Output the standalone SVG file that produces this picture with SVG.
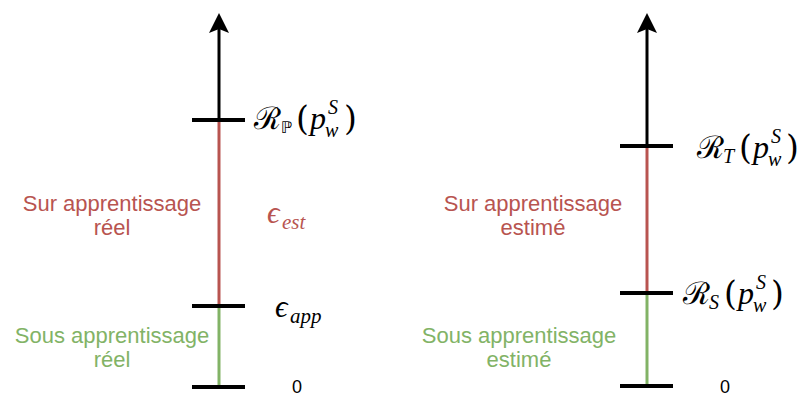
<svg xmlns="http://www.w3.org/2000/svg" width="800" height="397" viewBox="0 0 800 397">
<style>
.ax{stroke:#000;stroke-width:3;fill:none}
.tick{stroke:#000;stroke-width:4;fill:none}
.red{stroke:#b85450;stroke-width:3;fill:none}
.grn{stroke:#82b366;stroke-width:3;fill:none}
.lbl{font-family:"Liberation Sans",Arial,sans-serif;font-size:22px;text-anchor:middle}
.m{font-family:"DejaVu Serif","Liberation Serif",serif;fill:#000}
.mi{font-family:"Liberation Serif","DejaVu Serif",serif;font-style:italic}
.bb{font-family:"DejaVu Sans","Noto Sans",sans-serif;fill:#000}
.rt{fill:#b85450}
.gt{fill:#82b366}
.zero{font-family:"Liberation Sans",Arial,sans-serif;font-size:18px;fill:#000}
</style>
<rect width="800" height="397" fill="#fff"/>
<g id="connectors">
  <line class="ax" x1="219" y1="28" x2="219" y2="120"/>
  <polygon points="219,13 229,33 219,29 209,33" fill="#000"/>
  <line class="red" x1="219" y1="120" x2="219" y2="306"/>
  <line class="grn" x1="219" y1="306" x2="219" y2="387"/>
  <line class="ax" x1="647" y1="28" x2="647" y2="146"/>
  <polygon points="647,13 657,33 647,29 637,33" fill="#000"/>
  <line class="red" x1="647" y1="146" x2="647" y2="293"/>
  <line class="grn" x1="647" y1="293" x2="647" y2="386"/>
</g>
<g id="tick-rp">
  <line class="tick" x1="192" y1="120" x2="245" y2="120"/>
  <text class="m" x="254" y="129" font-size="31">ℛ</text>
  <text class="bb" x="281" y="133" font-size="16">ℙ</text>
  <text class="m" x="296" y="130" font-size="33">(</text>
  <text class="m mi" x="310" y="129" font-size="32">p</text>
  <text class="m mi" x="328" y="114" font-size="20">S</text>
  <text class="m mi" x="325" y="137" font-size="20">w</text>
  <text class="m" x="344" y="130" font-size="33">)</text>
</g>
<g id="tick-app">
  <line class="tick" x1="192" y1="306" x2="245" y2="306"/>
  <text class="m mi" x="275" y="317" font-size="31">ϵ</text>
  <text class="m mi" x="290" y="323" font-size="21">app</text>
</g>
<g id="tick-zero-left">
  <line class="tick" x1="192" y1="387" x2="245" y2="387"/>
  <text class="zero" x="292" y="393">0</text>
</g>
<g id="label-est">
  <text class="m mi" x="267" y="223" font-size="31" style="fill:#b85450">ϵ</text>
  <text class="m mi" x="282" y="229" font-size="21" style="fill:#b85450">est</text>
</g>
<g id="label-sur-reel">
  <text class="lbl rt" x="112" y="211">Sur apprentissage</text>
  <text class="lbl rt" x="112" y="235">réel</text>
</g>
<g id="label-sous-reel">
  <text class="lbl gt" x="112" y="343">Sous apprentissage</text>
  <text class="lbl gt" x="112" y="367">réel</text>
</g>
<g id="tick-rt">
  <line class="tick" x1="620" y1="146" x2="673" y2="146"/>
  <text class="m" x="697" y="158" font-size="31">ℛ</text>
  <text class="m mi" x="723" y="163" font-size="20">T</text>
  <text class="m" x="739" y="159" font-size="33">(</text>
  <text class="m mi" x="753" y="158" font-size="32">p</text>
  <text class="m mi" x="771" y="143" font-size="20">S</text>
  <text class="m mi" x="768" y="166" font-size="20">w</text>
  <text class="m" x="786" y="159" font-size="33">)</text>
</g>
<g id="tick-rs">
  <line class="tick" x1="620" y1="293" x2="673" y2="293"/>
  <text class="m" x="683" y="304" font-size="31">ℛ</text>
  <text class="m mi" x="709" y="309" font-size="20">S</text>
  <text class="m" x="724" y="305" font-size="33">(</text>
  <text class="m mi" x="738" y="304" font-size="32">p</text>
  <text class="m mi" x="756" y="289" font-size="20">S</text>
  <text class="m mi" x="753" y="312" font-size="20">w</text>
  <text class="m" x="771" y="305" font-size="33">)</text>
</g>
<g id="tick-zero-right">
  <line class="tick" x1="620" y1="386" x2="673" y2="386"/>
  <text class="zero" x="720" y="393">0</text>
</g>
<g id="label-sur-estime">
  <text class="lbl rt" x="533" y="211">Sur apprentissage</text>
  <text class="lbl rt" x="533" y="235">estimé</text>
</g>
<g id="label-sous-estime">
  <text class="lbl gt" x="519" y="343">Sous apprentissage</text>
  <text class="lbl gt" x="519" y="367">estimé</text>
</g>
</svg>
